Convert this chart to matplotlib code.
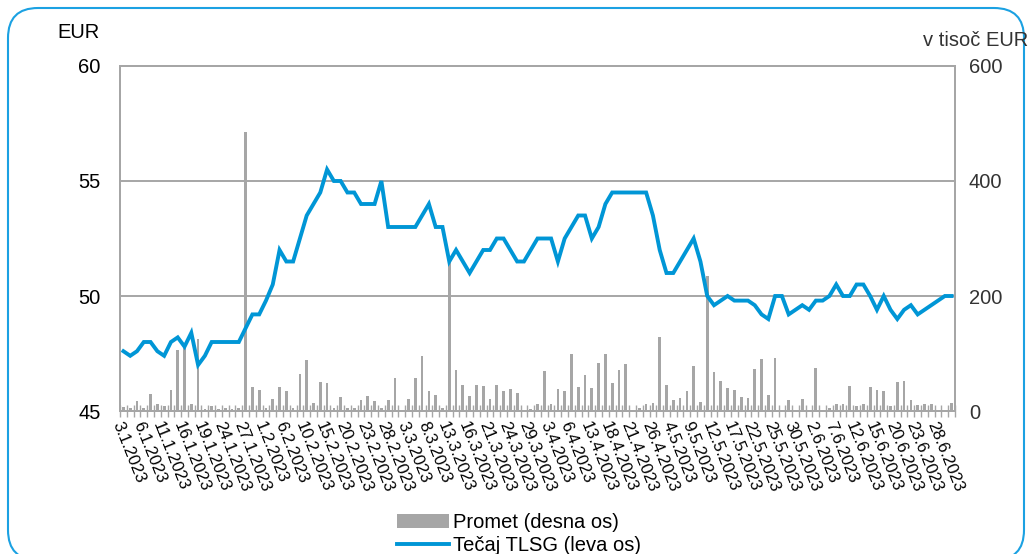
import numpy as np
import pandas as pd
import matplotlib
matplotlib.use("Agg")
import matplotlib.pyplot as plt
from matplotlib.patches import FancyBboxPatch

# =========================
# Data
# =========================

# Ljubljana exchange trading days, 3.1.2023 - 30.6.2023
start_date = "2023-01-03"
end_date = "2023-06-30"
holidays = ["2023-02-08", "2023-04-07", "2023-04-10", "2023-04-27",
            "2023-05-01", "2023-05-02"]

# Tečaj TLSG (EUR), left axis
rate = [
    47.6, 47.4, 47.6, 48.0, 48.0, 47.6, 47.4, 48.0, 48.2, 47.8, 48.4, 47.0,
    47.4, 48.0, 48.0, 48.0, 48.0, 48.0,
    48.6, 49.2, 49.2, 49.8, 50.5, 52.0, 51.5, 51.5, 52.5, 53.5, 54.0, 54.5,
    55.5, 55.0, 55.0, 54.5, 54.5, 54.0, 54.0, 54.0, 55.0, 53.0, 53.0, 53.0,
    53.0, 53.0, 53.5, 54.0,
    53.0, 53.0, 51.5, 52.0, 51.5, 51.0, 51.5, 52.0, 52.0, 52.5,
    52.5, 52.0, 51.5, 51.5, 52.0, 52.5, 52.5, 52.5, 51.5, 52.5,
    53.0, 53.5, 53.5, 52.5, 53.0, 54.0, 54.5, 54.5, 54.5, 54.5,
    54.5, 54.5, 53.5, 52.0, 51.0, 51.0, 51.5, 52.0, 52.5, 51.5,
    50.0, 49.6,
    49.8, 50.0, 49.8, 49.8, 49.8, 49.6, 49.2, 49.0, 50.0, 50.0,
    49.2, 49.4, 49.6, 49.4, 49.8, 49.8, 50.0, 50.5, 50.0, 50.0,
    50.5, 50.5, 50.0, 49.4, 50.0, 49.4, 49.0, 49.4, 49.6, 49.2,
    49.4, 49.6, 49.8, 50.0, 50.0,
]

# Promet (v tisoč EUR), right axis
volume = [
    7, 6, 17, 5, 30, 12, 9, 36, 106, 109, 12, 125, 3, 9, 3, 5, 3, 5, 485, 41,
    36, 6, 21, 42, 35, 6, 65, 88, 14, 50, 48,
    5, 24, 5, 5, 20, 26, 17, 5, 20, 57, 2, 21, 57, 96, 34, 28, 5, 260, 72,
    45, 26, 46, 43, 21, 45, 35, 39, 32, 0, 3, 12,
    70, 12, 38, 34, 99, 41, 62, 40, 83, 100, 48, 71, 81, 1, 6, 12, 14, 128,
    46, 19, 22, 35, 79, 15, 235, 67, 52, 40, 36, 24, 23,
    73, 90, 28, 93, 0, 20, 0, 21, 0, 75, 0, 6, 13, 13, 43, 9, 12, 42, 37, 34,
    8, 50, 53, 19, 10, 12, 12, 2, 0, 14,
]

left_ticks = [45, 50, 55, 60]
right_ticks = [0, 200, 400, 600]
label_step = 3

dates = pd.bdate_range(start_date, end_date, freq="C", holidays=holidays)
date_labels = [f"{d.day}.{d.month}.{d.year}" for d in dates]

# =========================
# Plotting
# =========================

plt.rcParams["font.family"] = ["Liberation Sans", "DejaVu Sans"]

grey = "#a6a6a6"
blue = "#0096d6"

fig = plt.figure(figsize=(10.32, 5.54), dpi=100)
ax = fig.add_axes([0.1163, 0.2581, 0.8091, 0.6228])
ax2 = ax.twinx()

x = np.arange(len(rate))

bars = ax2.bar(x, volume, width=0.4, color=grey, zorder=2,
               label="Promet (desna os)")
line, = ax.plot(x, rate, color=blue, lw=2.8, solid_joinstyle="miter",
                label="Tečaj TLSG (leva os)")

# line above bars
ax.set_zorder(ax2.get_zorder() + 1)
ax.patch.set_visible(False)

ax.set_xlim(-0.5, len(rate) - 0.5)
ax.set_ylim(45, 60)
ax2.set_ylim(0, 600)
ax.set_yticks(left_ticks)
ax2.set_yticks(right_ticks)

for v in left_ticks[1:-1]:
    ax2.axhline((v - 45) / 15 * 600, color=grey, lw=1.4, zorder=1)

ax.set_xticks(x[::label_step])
ax.set_xticklabels(date_labels[::label_step], rotation=-68, ha="left",
                   va="top", rotation_mode="anchor", fontsize=12)
ax.set_xticks(np.arange(-0.5, len(rate)), minor=True)
ax.tick_params(axis="x", which="major", length=0, pad=6)
ax.tick_params(axis="x", which="minor", direction="inout", length=8,
               width=1, color=grey)
ax.tick_params(axis="y", length=0, pad=14, labelsize=14.5)
ax2.tick_params(axis="y", length=0, pad=10, labelsize=14.5,
                labelcolor="#333333")

for a in (ax, ax2):
    for s in a.spines.values():
        s.set_color(grey)
        s.set_linewidth(1.4)

fig.text(100 / 1032, 1 - 32 / 554, "EUR", ha="right", va="center",
         fontsize=14.5)
fig.text(1028 / 1032, 1 - 40 / 554, "v tisoč EUR", ha="right", va="center",
         fontsize=14.5, color="#333333")

fig.legend(handles=[bars, line], loc="upper center",
           bbox_to_anchor=(0.503, 1 - 503 / 554), frameon=False, fontsize=14.5,
           handlelength=2.6, labelspacing=0.2, handletextpad=0.2,
           borderpad=0)

# rounded blue frame, bottom edge runs below the picture
frame = FancyBboxPatch((8, -6), 1016, 552, boxstyle="round,pad=0,rounding_size=30",
                       transform=None, fill=False, edgecolor="#1ba1e2", lw=1.5)
fig.add_artist(frame)

fig.savefig("out.png", dpi=100)
